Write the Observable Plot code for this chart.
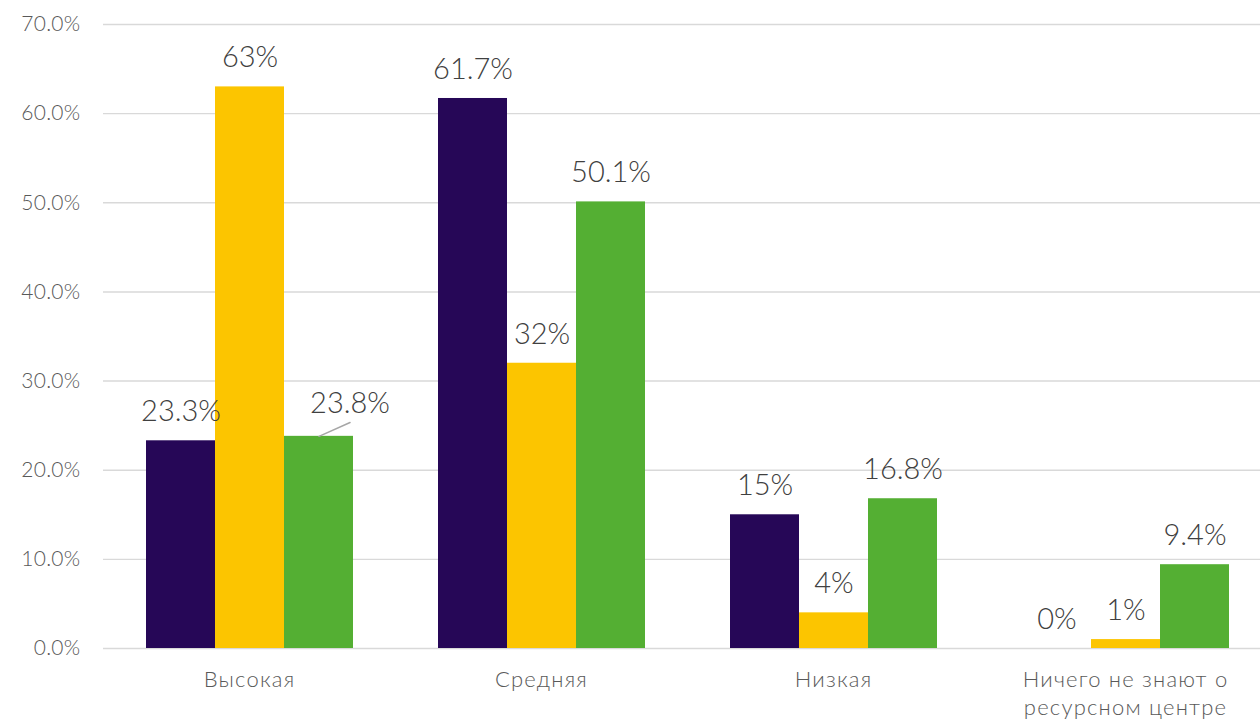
<!DOCTYPE html>
<html>
<head>
<meta charset="utf-8">
<script src="https://cdn.jsdelivr.net/npm/d3@7"></script>
<script src="https://cdn.jsdelivr.net/npm/@observablehq/plot@0.6"></script>
<style>
  html, body { margin: 0; padding: 0; background: #ffffff; overflow: hidden; }
  #chart { width: 1260px; height: 721px; overflow: hidden; }
  #chart svg { font-family: Lato, "Open Sans", sans-serif; font-weight: 300; overflow: hidden; }
  #chart g[aria-label="fx-axis tick label"] text { letter-spacing: 1.2px; }
  #chart g[aria-label="y-axis tick label"] text { letter-spacing: 0.3px; }
</style>
</head>
<body>
<div id="chart"></div>
<script>
const categories = ["Высокая", "Средняя", "Низкая", "Ничего не знают о ресурсном центре"];
const seriesNames = ["Ряд 1", "Ряд 2", "Ряд 3"];
const series1 = [23.3, 61.7, 15, 0];
const series2 = [63, 32, 4, 1];
const series3 = [23.8, 50.1, 16.8, 9.4];
const colors = ["#260757", "#fcc500", "#54af33"];
const yTicks = [0, 10, 20, 30, 40, 50, 60, 70];

const allSeries = [series1, series2, series3];
const data = [];
categories.forEach((c, i) => {
  allSeries.forEach((s, j) => {
    data.push({category: c, series: seriesNames[j], value: s[i]});
  });
});

const isLeader = d => d.category === categories[0] && d.series === seriesNames[2];
const normalLabels = data.filter(d => !isLeader(d));
const leaderLabels = data.filter(isLeader);

const wrap = d => d === categories[3] ? "Ничего не знают о\nресурсном центре" : d;

const chart = Plot.plot({
  width: 1260,
  height: 721,
  marginLeft: 103,
  marginRight: -11,
  marginTop: 24,
  marginBottom: 73,
  style: {fontFamily: "Lato, 'Open Sans', sans-serif", background: "#ffffff"},
  fx: {domain: categories, padding: 0},
  x: {domain: seriesNames, paddingInner: 0, paddingOuter: 0.586, axis: null},
  y: {domain: [0, 70]},
  color: {domain: seriesNames, range: colors},
  marks: [
    Plot.gridY(yTicks, {stroke: "#d9d9d9", strokeOpacity: 1, strokeWidth: 1.4}),
    Plot.axisY({ticks: yTicks, tickFormat: d => d.toFixed(1) + "%", tickSize: 0, tickPadding: 23,
      fontSize: 21, fill: "#595959", label: null}),
    Plot.axisFx({anchor: "bottom", tickSize: 0, tickPadding: 19, fontSize: 22, fill: "#595959",
      tickFormat: wrap, lineHeight: 1.27, label: null}),
    Plot.barY(data, {fx: "category", x: "series", y: "value", fill: "series"}),
    Plot.text(normalLabels, {fx: "category", x: "series", y: "value", text: d => d.value + "%",
      dy: -29, fontSize: 29, fill: "#404040"}),
    Plot.text(leaderLabels, {fx: "category", x: "series", y: "value", text: d => d.value + "%",
      dx: 31, dy: -33, fontSize: 29, fill: "#404040"}),
    Plot.vector(leaderLabels, {fx: "category", x: "series", y: "value", length: 34, rotate: 66,
      anchor: "start", stroke: "#a6a6a6", strokeWidth: 1.5,
      shape: {draw(context, l) { context.moveTo(0, 0); context.lineTo(0, -l); }}})
  ]
});
document.getElementById("chart").appendChild(chart);
</script>
</body>
</html>
